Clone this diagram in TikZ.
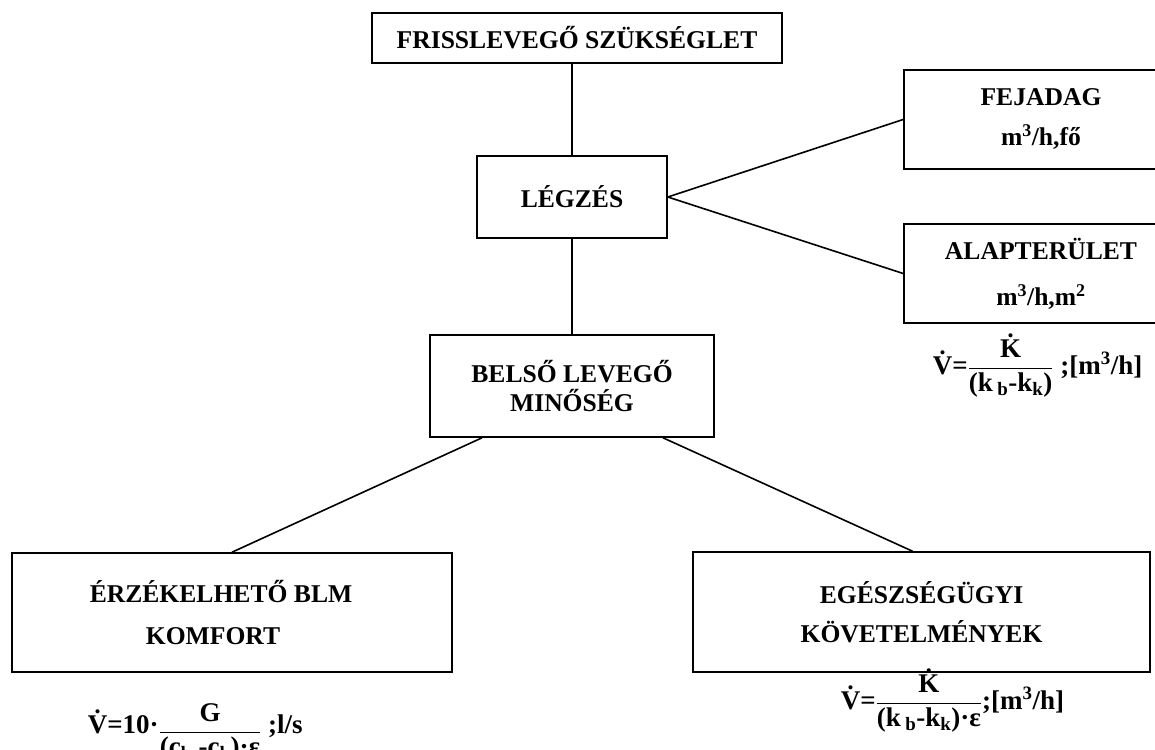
\documentclass[tikz,border=0pt]{standalone}
\usepackage{fontspec}
\setmainfont{Liberation Serif}
\begin{document}
\begin{tikzpicture}[x=1pt,y=-1pt,line width=1.6pt,
	box/.style={draw, rectangle, inner sep=0pt, align=center, font=\fontsize{25.6}{30}\selectfont\bfseries},
	formula/.style={anchor=base west, inner sep=0pt, font=\fontsize{27}{32}\selectfont\bfseries}]
		\useasboundingbox (0,0) rectangle (1155,749);
		\clip (0,0) rectangle (1155,749);
		
		% Boxes
		\node[box, minimum width=410pt, minimum height=50pt] (friss) at (577,38) {FRISSLEVEGŐ SZÜKSÉGLET};
		\node[box, minimum width=190pt, minimum height=82pt] (legzes) at (572,197) {LÉGZÉS};
		\node[box, minimum width=274pt, minimum height=99pt] (fejadag) at (1041,119.5) {FEJADAG\\[10pt]m\textsuperscript{3}/h,fő};
		\node[box, minimum width=274pt, minimum height=99pt] (alapter) at (1041,273.5) {ALAPTERÜLET\\[16pt]m\textsuperscript{3}/h,m\textsuperscript{2}};
		\node[box, minimum width=284pt, minimum height=102pt] (belso) at (572,386) {BELSŐ LEVEGŐ\\[-1pt]MINŐSÉG};
		\node[box, minimum width=440pt, minimum height=119pt] (erzek) at (232,612.5) {ÉRZÉKELHETŐ BLM\hspace*{22pt}\\[12pt]KOMFORT\hspace*{38pt}};
		\node[box, minimum width=457pt, minimum height=120pt] (egesz) at (921.5,612) {EGÉSZSÉGÜGYI\\[9pt]KÖVETELMÉNYEK};
		
		% Formulas
		\node[formula] (keplet1) at (87,733) {\.{V}=10·\raisebox{-5pt}{$\displaystyle\frac{\mbox{G}}{\mbox{(c\textsubscript{b} -c\textsubscript{k})·ε}}$} ;l/s};
		\node[formula] (keplet2) at (932,374) {\.{V}=$\displaystyle\frac{\mbox{\.{K}}}{\mbox{(k\,\textsubscript{b}-k\textsubscript{k})}}$ ;[m\textsuperscript{3}/h]};
		\node[formula] (keplet3) at (840,709) {\.{V}=$\displaystyle\frac{\mbox{\.{K}}}{\mbox{(k\,\textsubscript{b}-k\textsubscript{k})·ε}}$;[m\textsuperscript{3}/h]};
		
		% Edges
		\draw (legzes.north) -- (legzes.north |- friss.south);
		\draw (legzes.east) -- (fejadag.west);
		\draw (legzes.east) -- (alapter.west);
		\draw (legzes.south) -- (belso.north);
		\draw ([xshift=-90pt]belso.south) -- (erzek.north);
		\draw ([xshift=91pt]belso.south) -- ([xshift=-9pt]egesz.north);
		
	\end{tikzpicture}
\end{document}
